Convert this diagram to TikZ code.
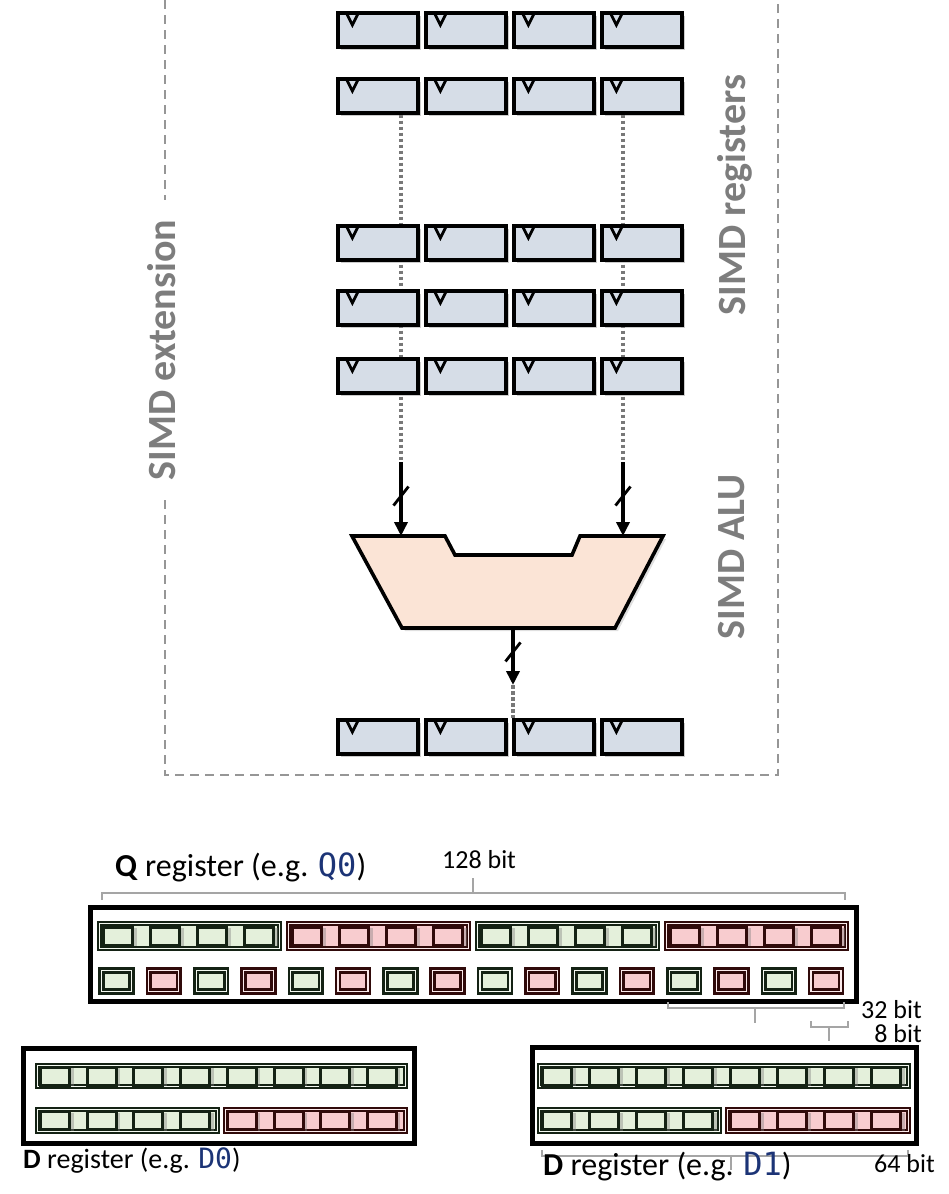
\documentclass[tikz,border=0pt]{standalone}
\usepackage{fontspec}
\setmainfont{Carlito}
\newfontfamily\codefont{DejaVu Sans Mono}
\usetikzlibrary{arrows.meta,shadows,calc}

\definecolor{regfill}{RGB}{214,221,231}
\definecolor{alufill}{RGB}{251,228,214}
\definecolor{gfill}{RGB}{228,240,219}
\definecolor{rfill}{RGB}{248,204,207}
\definecolor{gdark}{RGB}{20,34,20}
\definecolor{rdark}{RGB}{48,10,10}
\definecolor{labelgray}{RGB}{125,125,125}
\definecolor{framegray}{RGB}{150,150,150}
\definecolor{dotgray}{RGB}{120,120,120}
\definecolor{bracegray}{RGB}{165,165,165}
\definecolor{codeblue}{RGB}{28,52,118}

\pgfdeclarelayer{background}
\pgfsetlayers{background,main}

\begin{document}
\begin{tikzpicture}[
    x=1pt, y=-1pt,
    >={Triangle[length=14pt,width=13pt]},
    regcell/.style={rectangle, draw=black, line width=3.2pt, fill=regfill, minimum width=80pt, minimum height=34pt, inner sep=0pt,
        drop shadow={shadow xshift=3pt, shadow yshift=-3pt, opacity=0.4}},
    vmark/.style={line width=2.8pt},
    alu/.style={draw=black, line width=3.6pt, fill=alufill, line join=miter,
        drop shadow={shadow xshift=3pt, shadow yshift=-3pt, opacity=0.25}},
    bus/.style={->, line width=3.6pt},
    slash/.style={line width=2.8pt},
    dotline/.style={draw=dotgray, line width=3.6pt, dash pattern=on 3.5pt off 2.5pt},
    frame/.style={draw=framegray, line width=2.4pt, dash pattern=on 9pt off 6pt},
    sidelabel/.style={font=\bfseries\fontsize{40}{40}\selectfont, text=labelgray, rotate=90, inner sep=0pt},
    regbox/.style={rectangle, draw=black, line width=4.2pt, inner sep=0pt},
    grp/.style={rectangle, line width=2pt, double distance=1.3pt, inner sep=0pt},
    ggrp/.style={grp, draw=gdark, double=gfill!40!white, fill=gfill},
    rgrp/.style={grp, draw=rdark, double=rfill!40!white, fill=rfill},
    bcell/.style={rectangle, line width=3pt, minimum width=29pt, minimum height=18pt, inner sep=0pt,
        drop shadow={shadow xshift=4pt, shadow yshift=-1pt, opacity=0.4}},
    gcell/.style={bcell, draw=gdark, fill=gfill},
    rcell/.style={bcell, draw=rdark, fill=rfill},
    sq/.style={rectangle, line width=2.6pt, double distance=1.2pt, minimum width=30pt, minimum height=21pt, inner sep=0pt},
    gsq/.style={sq, draw=gdark, double=gfill!40!white, fill=gfill},
    rsq/.style={sq, draw=rdark, double=rfill!40!white, fill=rfill},
    brace/.style={draw=bracegray, line width=2.6pt},
    caption/.style={font=\fontsize{32}{34}\selectfont, inner sep=0pt},
    bitlabel/.style={font=\fontsize{26}{28}\selectfont, inner sep=0pt}
]
\useasboundingbox (0,0) rectangle (948,1194);

% SIMD extension frame
\draw[frame] (165,0) -- (165,200);
\draw[frame] (165,500) -- (165,775) -- (778,775) -- (778,0);
\node[sidelabel] (extlbl) at (162,350) {SIMD extension};
\node[sidelabel] (reglbl) at (735,195) {SIMD registers};
\node[sidelabel] (alulbl) at (732,557) {SIMD ALU};

% register file and result register
\foreach \r/\ypos in {ra/30,rb/96,rc/243,rd/308,re/376,rz/737}
  \foreach \c in {1,...,4} {
    \node[regcell] (\r\c) at ({290+88*\c},\ypos) {};
    \draw[vmark] ([xshift=10pt,yshift=-1.6pt]\r\c.north west) -- ++(6pt,-12pt) -- ++(6pt,12pt);
  }

% ALU
\draw[alu] (352,536) -- (445,536) -- (455,555) -- (572,555) -- (580,536) -- (663,536) -- (615,628) -- (402,628) -- cycle;
\coordinate (alu-a) at (401,536);
\coordinate (alu-b) at (623,536);
\coordinate (alu-o) at (513,628);
\coordinate (in-a) at (401,462);
\coordinate (in-b) at (623,462);
\coordinate (out) at (513,685);

\begin{pgfonlayer}{background}
\draw[dotline] (rb1.south -| in-a) -- (in-a);
\draw[dotline] (rb4.south -| in-b) -- (in-b);
\end{pgfonlayer}

\draw[bus] (in-a) -- coordinate[pos=0.46] (sl-a) (alu-a);
\draw[bus] (in-b) -- coordinate[pos=0.46] (sl-b) (alu-b);
\draw[bus] (alu-o) -- coordinate[pos=0.42] (sl-o) (out);
\foreach \s in {sl-a,sl-b,sl-o}
  \draw[slash] ([shift={(-7.5pt,-9.5pt)}]\s) -- ([shift={(7.5pt,9.5pt)}]\s);
\draw[dotline] (out) -- (rz3.north -| out);

% Q register
\node[caption, anchor=base west] (qlbl) at (115,876) {\textbf{Q} register (e.g. \textcolor{codeblue}{\codefont Q0})};
\node[bitlabel, anchor=base west] (q128) at (442,868) {128 bit};
\draw[brace] (102,900) -- (102,893) -- (845,893) -- (845,900) (473,893) -- (473,878);

\node[regbox, minimum width=766pt, minimum height=94pt] (qreg) at (473.5,954.5) {};
\foreach \g/\gs/\cs in {0/ggrp/gcell,1/rgrp/rcell,2/ggrp/gcell,3/rgrp/rcell} {
  \node[\gs, minimum width=180pt, minimum height=25pt] (qw\g) at ({189.5+189*\g},936) {};
  \foreach \j in {0,...,3}
    \node[\cs] (qw\g\j) at ({118+189*\g+47*\j},936) {};
}
\foreach \p in {0,...,7} {
  \node[gsq] (qb\p a) at ({116.5+94.6*\p},981) {};
  \node[rsq] (qb\p b) at ({163.8+94.6*\p},981) {};
}

\draw[brace] (668,1002) -- (668,1008) -- (844,1008) -- (844,1002) (755,1008) -- (755,1023);
\node[bitlabel, anchor=base east] (q32) at (922,1018) {32 bit};
\draw[brace] (811,1021) -- (811,1027) -- (848,1027) -- (848,1021) (829,1027) -- (829,1041);
\node[bitlabel, anchor=base east] (q8) at (922,1042) {8 bit};

% D0 register
\node[regbox, minimum width=391pt, minimum height=95pt] (d0reg) at (219,1096) {};
\node[ggrp, minimum width=368pt, minimum height=21pt] (d0hi) at (221.5,1076) {};
\foreach \j in {0,...,7}
  \node[gcell] (d0hi\j) at ({55+46.7*\j},1076) {};
\node[ggrp, minimum width=180pt, minimum height=22pt] (d0lo) at (127.5,1120.5) {};
\node[rgrp, minimum width=180pt, minimum height=22pt] (d0lr) at (315.5,1120.5) {};
\foreach \j in {0,...,3}
  \node[gcell] (d0lo\j) at ({55+46.7*\j},1120.5) {};
\foreach \j in {4,...,7}
  \node[rcell] (d0lr\j) at ({55+46.7*\j},1120.5) {};
\node[caption, font=\fontsize{28}{30}\selectfont, anchor=base west] (d0lbl) at (23,1168) {\textbf{D} register (e.g. \textcolor{codeblue}{\codefont D0})};

% D1 register
\node[regbox, minimum width=384pt, minimum height=96pt] (d1reg) at (724.5,1095.5) {};
\node[ggrp, minimum width=369pt, minimum height=21pt] (d1hi) at (724,1076) {};
\foreach \j in {0,...,7}
  \node[gcell] (d1hi\j) at ({557+47*\j},1076) {};
\node[ggrp, minimum width=180pt, minimum height=22pt] (d1lo) at (629.5,1120.5) {};
\node[rgrp, minimum width=181pt, minimum height=22pt] (d1lr) at (818,1120.5) {};
\foreach \j in {0,...,3}
  \node[gcell] (d1lo\j) at ({557+47*\j},1120.5) {};
\foreach \j in {4,...,7}
  \node[rcell] (d1lr\j) at ({557+47*\j},1120.5) {};
\draw[brace] (542,1150) -- (542,1156) -- (908,1156) -- (908,1150) (731,1156) -- (731,1170);
\node[bitlabel, anchor=base east] (d64) at (935,1172) {64 bit};
\node[caption, anchor=base west] (d1lbl) at (543,1175) {\textbf{D} register (e.g. \textcolor{codeblue}{\codefont D1})};

\end{tikzpicture}
\end{document}
